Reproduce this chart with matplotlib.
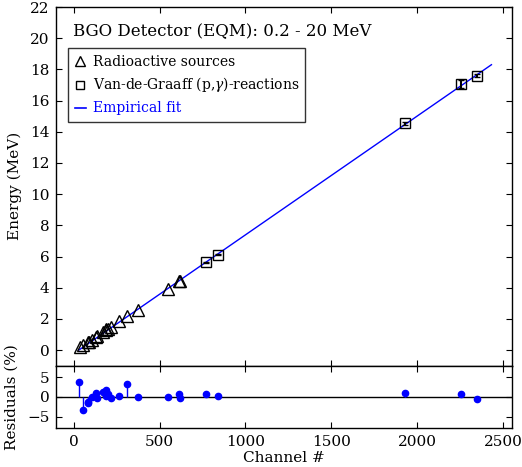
import matplotlib
matplotlib.use("Agg")
import matplotlib.pyplot as plt
from matplotlib.lines import Line2D

plt.rcParams['font.family'] = ['DejaVu Serif']
plt.rcParams['mathtext.fontset'] = 'dejavuserif'

# Radioactive sources (channel, energy MeV)
tri_ch = [35, 55, 85, 88, 107, 128, 138, 173, 188, 190, 200, 219, 266, 308, 372, 552, 615, 620]
tri_E = [0.17, 0.30, 0.51, 0.53, 0.66, 0.84, 0.90, 1.17, 1.28, 1.33, 1.36, 1.46, 1.84, 2.20, 2.60, 3.92, 4.40, 4.45]

# Van-de-Graaff (p,gamma) reactions
sq_ch = [771, 841, 1928, 2252, 2345]
sq_E = [5.63, 6.13, 14.55, 17.07, 17.60]
sq_err = [0.05, 0.06, 0.10, 0.28, 0.12]

# Empirical fit endpoints
fit_ch = [30, 2432]
fit_E = [0.0, 18.3]

# Residuals (%)
res_ch = [33, 55, 84, 86, 107, 128, 138, 173, 188, 188, 200, 219, 266, 308, 372,
          552, 615, 620, 771, 841, 1928, 2252, 2345]
res_val = [3.8, -3.3, -1.2, -1.6, 0.0, 1.1, -0.2, 1.4, 1.9, 0.3, 0.7, -0.3, 0.3, 3.4, -0.1,
           0.1, 0.8, -0.3, 0.8, 0.3, 1.0, 0.8, -0.5]

xticks = [0, 500, 1000, 1500, 2000, 2500]
yticks_top = list(range(0, 23, 2))
yticks_res = [-5, 0, 5]

fig = plt.figure(figsize=(5.22, 4.67), dpi=100)
ax = fig.add_axes([0.1082, 0.2169, 0.8721, 0.7681])
axr = fig.add_axes([0.1082, 0.0829, 0.8721, 0.1340])

for a in (ax, axr):
    a.tick_params(direction='in', top=True, right=True, length=4, width=0.8,
                  labelsize=11, pad=5)
    for s in a.spines.values():
        s.set_linewidth(1.0)

ax.plot(fit_ch, fit_E, color='#0000ff', lw=1.0, zorder=2)
ax.plot(tri_ch, tri_E, linestyle='none', marker='^', markersize=8,
        markerfacecolor='none', markeredgecolor='black', markeredgewidth=1.0, zorder=3)
ax.errorbar(sq_ch, sq_E, yerr=sq_err, linestyle='none', marker='s', markersize=7,
            markerfacecolor='none', markeredgecolor='black', markeredgewidth=1.0,
            ecolor='black', elinewidth=1.5, capsize=2, zorder=3)

ax.set_xlim(-100, 2550)
ax.set_ylim(-1, 22)
ax.set_xticks(xticks)
ax.set_xticklabels([])
ax.set_yticks(yticks_top)
ax.set_ylabel('Energy (MeV)', fontsize=11, labelpad=6)

ax.text(0.037, 0.932, 'BGO Detector (EQM): 0.2 - 20 MeV', transform=ax.transAxes,
        fontsize=12, va='center', ha='left')

handles = [
    Line2D([], [], linestyle='none', marker='^', markersize=7, markerfacecolor='none',
           markeredgecolor='black'),
    Line2D([], [], linestyle='none', marker='s', markersize=6, markerfacecolor='none',
           markeredgecolor='black'),
    Line2D([], [], color='#0000ff', lw=1.2),
]
leg = ax.legend(handles, ['Radioactive sources', r'Van-de-Graaff (p,$\gamma$)-reactions', 'Empirical fit'],
                loc='upper left', bbox_to_anchor=(0.026, 0.885), fontsize=10,
                frameon=True, fancybox=False, edgecolor='black', handlelength=0.8,
                handletextpad=0.5, borderpad=0.45, labelspacing=0.5, borderaxespad=0)
leg.get_frame().set_linewidth(1.0)
leg.get_texts()[2].set_color('#0000ff')

axr.axhline(0, color='black', lw=1.0, zorder=1)
axr.vlines(res_ch, 0, res_val, color='#0000ff', lw=1.0, zorder=2)
axr.plot(res_ch, res_val, linestyle='none', marker='o', markersize=4.5,
         color='#0000ff', zorder=3)
axr.set_xlim(-100, 2550)
axr.set_ylim(-8, 8)
axr.set_xticks(xticks)
axr.set_yticks(yticks_res)
axr.set_xlabel('Channel #', fontsize=11, labelpad=1)
axr.set_ylabel('Residuals (%)', fontsize=11, labelpad=6)

fig.align_ylabels([ax, axr])
fig.savefig('out.png', dpi=100)
